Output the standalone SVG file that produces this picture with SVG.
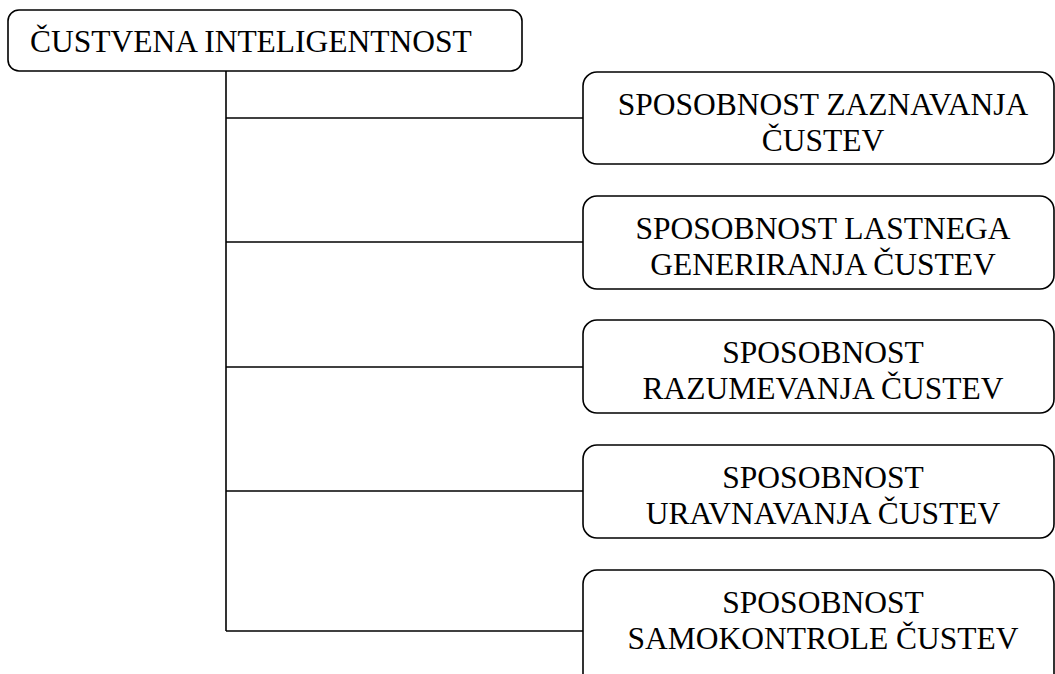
<svg xmlns="http://www.w3.org/2000/svg" width="1055" height="674" viewBox="0 0 1055 674">
  <style>
    .box { fill: #ffffff; stroke: #000000; stroke-width: 1.6; }
    .line { fill: none; stroke: #000000; stroke-width: 1.6; }
    text { font-family: "Liberation Serif", "Times New Roman", serif; font-size: 31.5px; fill: #000000; }
    .c { text-anchor: middle; }
  </style>
  <rect width="1055" height="674" fill="#ffffff"/>

  <!-- tree connectors -->
  <g id="connectors">
    <path class="line" d="M226 71 V631"/>
    <path class="line" d="M226 118 H583"/>
    <path class="line" d="M226 242 H583"/>
    <path class="line" d="M226 367 H583"/>
    <path class="line" d="M226 491 H583"/>
    <path class="line" d="M226 631 H583"/>
  </g>

  <g id="root">
    <rect class="box" x="8" y="10" width="514" height="61" rx="11"/>
    <text x="30" y="52">ČUSTVENA INTELIGENTNOST</text>
  </g>

  <g id="zaznavanje">
    <rect class="box" x="583" y="72" width="471" height="92" rx="14"/>
    <text class="c" x="823" y="115">SPOSOBNOST ZAZNAVANJA</text>
    <text class="c" x="823" y="151">ČUSTEV</text>
  </g>

  <g id="generiranje">
    <rect class="box" x="583" y="196" width="471" height="93" rx="14"/>
    <text class="c" x="823" y="239">SPOSOBNOST LASTNEGA</text>
    <text class="c" x="823" y="275">GENERIRANJA ČUSTEV</text>
  </g>

  <g id="razumevanje">
    <rect class="box" x="583" y="320" width="471" height="93" rx="14"/>
    <text class="c" x="823" y="363">SPOSOBNOST</text>
    <text class="c" x="823" y="399">RAZUMEVANJA ČUSTEV</text>
  </g>

  <g id="uravnavanje">
    <rect class="box" x="583" y="445" width="471" height="93" rx="14"/>
    <text class="c" x="823" y="488">SPOSOBNOST</text>
    <text class="c" x="823" y="524">URAVNAVANJA ČUSTEV</text>
  </g>

  <g id="samokontrola">
    <rect class="box" x="583" y="570" width="471" height="120" rx="14"/>
    <text class="c" x="823" y="613">SPOSOBNOST</text>
    <text class="c" x="823" y="649">SAMOKONTROLE ČUSTEV</text>
  </g>
</svg>
